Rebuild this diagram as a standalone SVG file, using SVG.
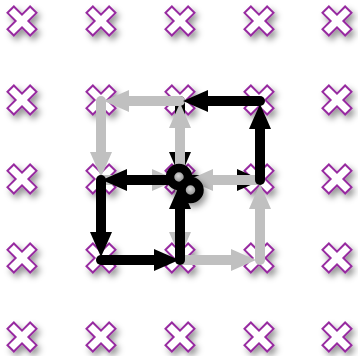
<svg xmlns="http://www.w3.org/2000/svg" xmlns:xlink="http://www.w3.org/1999/xlink" width="358" height="356" viewBox="0 0 358 356">
<style>
.x{fill:#fff;stroke:#972ba0;stroke-width:2;stroke-linejoin:miter}
.b{stroke:#000;stroke-width:10;stroke-linecap:round;fill:none;marker-end:url(#hb)}
.g{stroke:#c0c0c0;stroke-width:10;stroke-linecap:round;fill:none;marker-end:url(#hg)}
.ring{fill:none;stroke:#000;stroke-width:8.5}
.dot{fill:url(#dg)}
</style>
<defs>
<filter id="sh" x="-50%" y="-50%" width="200%" height="200%">
<feDropShadow dx="3" dy="4" stdDeviation="3" flood-color="#000" flood-opacity="0.4"/>
</filter>
<radialGradient id="dg" cx="0.45" cy="0.4" r="0.6">
<stop offset="0" stop-color="#d8d8d8"/>
<stop offset="1" stop-color="#8a8a8a"/>
</radialGradient>
<marker id="hb" viewBox="0 0 25 22" refX="9" refY="11" markerWidth="25" markerHeight="22" markerUnits="userSpaceOnUse" orient="auto">
<path d="M0,0 L25,11 L0,22 Z" fill="#000"/>
</marker>
<marker id="hg" viewBox="0 0 25 22" refX="9" refY="11" markerWidth="25" markerHeight="22" markerUnits="userSpaceOnUse" orient="auto">
<path d="M0,0 L25,11 L0,22 Z" fill="#c0c0c0"/>
</marker>
<path id="xm" class="x" d="M8.13,-14.5 L14.5,-8.13 L6.36,0 L14.5,8.13 L8.13,14.5 L0,6.36 L-8.13,14.5 L-14.5,8.13 L-6.36,0 L-14.5,-8.13 L-8.13,-14.5 L0,-6.36 Z"/>
</defs>
<g id="nodes" filter="url(#sh)">
<g id="n00"><use xlink:href="#xm" x="22" y="21"/></g>
<g id="n10"><use xlink:href="#xm" x="101" y="21"/></g>
<g id="n20"><use xlink:href="#xm" x="180" y="21"/></g>
<g id="n30"><use xlink:href="#xm" x="259" y="21"/></g>
<g id="n40"><use xlink:href="#xm" x="337" y="21"/></g>
<g id="n01"><use xlink:href="#xm" x="22" y="100"/></g>
<g id="n11"><use xlink:href="#xm" x="101" y="100"/></g>
<g id="n21"><use xlink:href="#xm" x="180" y="100"/></g>
<g id="n31"><use xlink:href="#xm" x="259" y="100"/></g>
<g id="n41"><use xlink:href="#xm" x="337" y="100"/></g>
<g id="n02"><use xlink:href="#xm" x="22" y="179"/></g>
<g id="n12"><use xlink:href="#xm" x="101" y="179"/></g>
<g id="n22"><use xlink:href="#xm" x="180" y="179"/></g>
<g id="n32"><use xlink:href="#xm" x="259" y="179"/></g>
<g id="n42"><use xlink:href="#xm" x="337" y="179"/></g>
<g id="n03"><use xlink:href="#xm" x="22" y="258"/></g>
<g id="n13"><use xlink:href="#xm" x="101" y="258"/></g>
<g id="n23"><use xlink:href="#xm" x="180" y="258"/></g>
<g id="n33"><use xlink:href="#xm" x="259" y="258"/></g>
<g id="n43"><use xlink:href="#xm" x="337" y="258"/></g>
<g id="n04"><use xlink:href="#xm" x="22" y="337"/></g>
<g id="n14"><use xlink:href="#xm" x="101" y="337"/></g>
<g id="n24"><use xlink:href="#xm" x="180" y="337"/></g>
<g id="n34"><use xlink:href="#xm" x="259" y="337"/></g>
<g id="n44"><use xlink:href="#xm" x="337" y="337"/></g>
</g>
<g id="connectors">
<line class="g" x1="101" y1="180" x2="161" y2="180"/>
<line class="g" x1="180" y1="180" x2="180" y2="241"/>
<line class="b" x1="180" y1="180" x2="246" y2="180"/>
<line class="b" x1="180" y1="101" x2="180" y2="161"/>
<line class="g" x1="180" y1="180" x2="180" y2="119"/>
<line class="g" x1="180" y1="101" x2="120" y2="101"/>
<line class="g" x1="101" y1="101" x2="101" y2="161"/>
<line class="g" x1="180" y1="260" x2="240" y2="260"/>
<line class="g" x1="260" y1="260" x2="260" y2="200"/>
<line class="g" x1="260" y1="180" x2="204" y2="180"/>
<line class="b" x1="180" y1="180" x2="118" y2="180"/>
<line class="b" x1="101" y1="180" x2="101" y2="241"/>
<line class="b" x1="101" y1="260" x2="163" y2="260"/>
<line class="b" x1="180" y1="260" x2="180" y2="200"/>
<line class="b" x1="260" y1="180" x2="260" y2="120"/>
<line class="b" x1="260" y1="101" x2="199" y2="101"/>
</g>
<g id="walk-ends" filter="url(#sh)">
<g id="start-black"><circle class="dot" cx="179" cy="177" r="5.5"/><circle class="ring" cx="179" cy="177" r="9"/></g>
<g id="start-gray"><circle class="dot" cx="190.5" cy="190" r="5.5"/><circle class="ring" cx="190.5" cy="190" r="9"/></g>
</g>
</svg>
